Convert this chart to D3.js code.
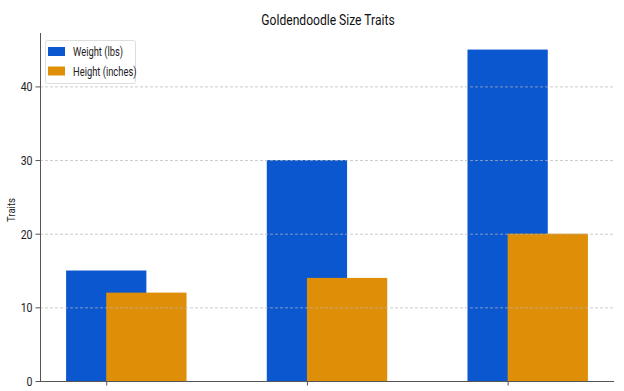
<!DOCTYPE html>
<html><head><meta charset="utf-8">
<script src="https://cdn.jsdelivr.net/npm/d3@7"></script>
<style>body{margin:0;background:#fff}svg{display:block;font-family:Roboto,"Noto Sans",sans-serif}</style>
</head><body><svg id="c" width="624" height="391"></svg>
<script>
const categories = ["Mini", "Medium", "Standard"];
const weightValues = [15, 30, 45];
const heightValues = [12, 14, 20];
const yTicks = [0, 10, 20, 30, 40];
const seriesNames = ["Weight (lbs)", "Height (inches)"];
const colors = ["#0b57d0", "#df8e07"];

const svg = d3.select("#c");
const L = 40, R = 614, T = 33, B = 381;
const idx = categories.map((d, i) => i);
const x = d3.scaleLinear().domain([-0.33, 2.53]).range([L, R]);
const y = d3.scaleLinear().domain([0, 47.25]).range([B, T]);
const bw = 0.4;
const squeeze = 0.78;
function condense(sel) {
  sel.each(function() {
    const len = this.getComputedTextLength();
    d3.select(this).attr("textLength", len * squeeze).attr("lengthAdjust", "spacingAndGlyphs");
  });
}

// bars
svg.append("g").selectAll("rect").data(idx).join("rect")
  .attr("x", i => x(i - bw / 2)).attr("width", i => x(i + bw / 2) - x(i - bw / 2))
  .attr("y", i => y(weightValues[i])).attr("height", i => y(0) - y(weightValues[i]))
  .attr("fill", colors[0]);
svg.append("g").selectAll("rect").data(idx).join("rect")
  .attr("x", i => x(i)).attr("width", i => x(i + bw) - x(i))
  .attr("y", i => y(heightValues[i])).attr("height", i => y(0) - y(heightValues[i]))
  .attr("fill", colors[1]);

// grid
svg.append("g").selectAll("line").data(yTicks.filter(v => v > 0)).join("line")
  .attr("x1", L).attr("x2", R).attr("y1", d => y(d) + 0.5).attr("y2", d => y(d) + 0.5)
  .attr("stroke", "#b5b5b5").attr("stroke-opacity", 0.7).attr("stroke-dasharray", "3,2").attr("stroke-width", 1);

// y axis
const ya = svg.append("g").attr("transform", `translate(${L + 0.5},0)`)
  .call(d3.axisLeft(y).tickValues(yTicks).tickSize(5).tickPadding(3).tickFormat(d3.format("d")));
ya.select(".domain").attr("d", `M0,${T}V${B}`).attr("stroke", "#555");
ya.selectAll(".tick line").attr("stroke", "#555");
ya.selectAll(".tick text").attr("font-size", 13.5).attr("fill", "#222").attr("font-family", "Roboto, sans-serif").call(condense);

// x axis
const xa = svg.append("g").attr("transform", `translate(0,${B + 0.5})`)
  .call(d3.axisBottom(x).tickValues(idx).tickSize(4).tickFormat(() => ""));
xa.select(".domain").attr("d", `M${L},0H${R}`).attr("stroke", "#555");
xa.selectAll(".tick line").attr("stroke", "#555");

// title
svg.append("text").attr("x", (L + R) / 2 + 1).attr("y", 25).attr("text-anchor", "middle")
  .attr("font-size", 15.5).attr("fill", "#111").text("Goldendoodle Size Traits").call(condense);

// y label
svg.append("text").attr("transform", `translate(15,${(198 + 222) / 2}) rotate(-90)`)
  .attr("text-anchor", "middle").attr("font-size", 11).attr("fill", "#222")
  .attr("textLength", 24).attr("lengthAdjust", "spacingAndGlyphs").text("Traits");

// legend
const lg = svg.append("g");
lg.append("rect").attr("x", 45.5).attr("y", 40.5).attr("width", 90).attr("height", 43)
  .attr("rx", 2).attr("fill", "#fff").attr("stroke", "#ddd");
seriesNames.forEach((n, k) => {
  lg.append("rect").attr("x", 48).attr("y", 47 + k * 19.5).attr("width", 17).attr("height", 9).attr("fill", colors[k]);
  lg.append("text").attr("x", 73).attr("y", 56 + k * 19.5).attr("font-size", 12).attr("fill", "#222").text(n).call(condense);
});
</script></body></html>
